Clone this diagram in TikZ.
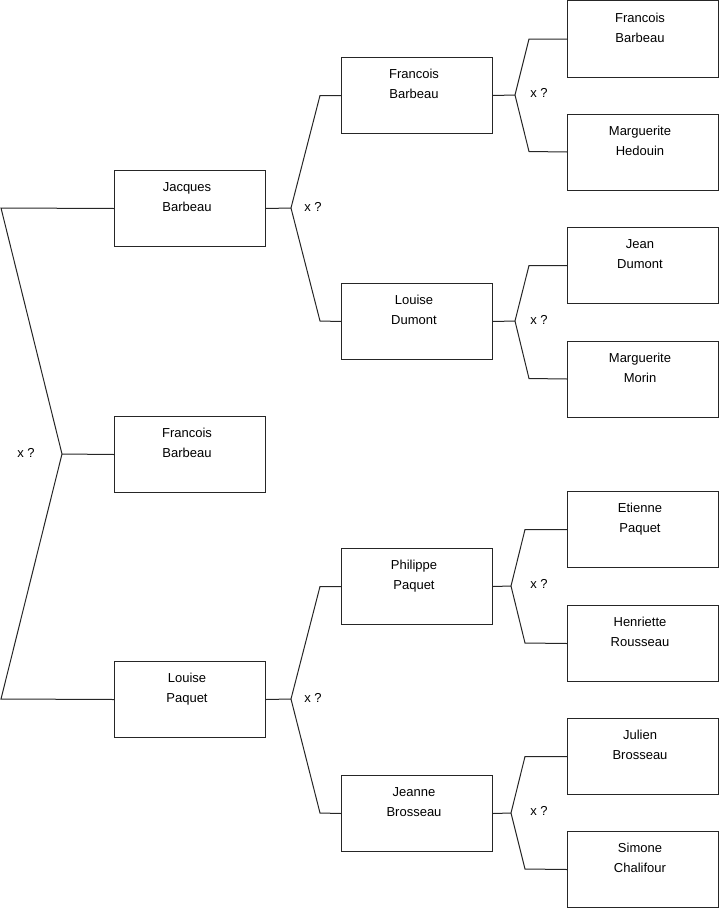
\documentclass[tikz,border=0pt]{standalone}
\usepackage{fontspec}
\setmainfont{Liberation Sans}
\begin{document}
\begin{tikzpicture}[x=1bp,y=-1bp,
  box/.style={draw=black!85,line width=1bp,rectangle,minimum width=151bp,minimum height=76bp,inner sep=0pt,anchor=north west},
  ptext/.style={anchor=north,inner sep=0pt,align=center,font=\fontsize{13bp}{20bp}\selectfont,text=black},
  xq/.style={inner sep=0pt,font=\fontsize{13bp}{20bp}\selectfont,text=black},
  conn/.style={draw=black!85,line width=1bp}]
\useasboundingbox (0,0) rectangle (719,908);
% boxes
\newcommand{\pbox}[4]{%
  \node[box] (#1) at (#2,#3) {};
  \node[ptext] (#1t) at ([xshift=-3bp,yshift=-12bp]#1.north) {#4};}
\pbox{a1}{114}{170}{Jacques\\Barbeau}
\pbox{a2}{114}{416}{Francois\\Barbeau}
\pbox{a3}{114}{661}{Louise\\Paquet}
\pbox{b1}{341}{57}{Francois\\Barbeau}
\pbox{b2}{341}{283}{Louise\\Dumont}
\pbox{b3}{341}{548}{Philippe\\Paquet}
\pbox{b4}{341}{775}{Jeanne\\Brosseau}
\pbox{c1}{567}{0.5}{Francois\\Barbeau}
\pbox{c2}{567}{113.5}{Marguerite\\Hedouin}
\pbox{c3}{567}{227}{Jean\\Dumont}
\pbox{c4}{567}{340.5}{Marguerite\\Morin}
\pbox{c5}{567}{491}{Etienne\\Paquet}
\pbox{c6}{567}{605}{Henriette\\Rousseau}
\pbox{c7}{567}{718}{Julien\\Brosseau}
\pbox{c8}{567}{831}{Simone\\Chalifour}
% junction coordinates
\coordinate (L1) at (1,208);
\coordinate (L2) at (62,454);
\coordinate (L3) at (1,699);
\coordinate (ja) at (291,208);
\coordinate (jb) at (291,699);
\coordinate (jc) at (515,95);
\coordinate (jd) at (515,321);
\coordinate (je) at (511,586);
\coordinate (jf) at (511,813);
% level 1
\draw[conn] (a1.west) -- (L1) -- (L2) -- (L3) -- (a3.west);
\draw[conn] (L2) -- (a2.west);
% level 2
\draw[conn] (a1.east) -- (ja);
\draw[conn] (b1.west) -- ++(-21,0) -- (ja) -- (320,321) -- (b2.west);
\draw[conn] (a3.east) -- (jb);
\draw[conn] (b3.west) -- ++(-21,0) -- (jb) -- (320,813) -- (b4.west);
% level 3
\draw[conn] (b1.east) -- (jc);
\draw[conn] (c1.west) -- ++(-38,0) -- (jc) -- (529,151.5) -- (c2.west);
\draw[conn] (b2.east) -- (jd);
\draw[conn] (c3.west) -- ++(-38,0) -- (jd) -- (529,378.5) -- (c4.west);
\draw[conn] (b3.east) -- (je);
\draw[conn] (c5.west) -- ++(-42,0) -- (je) -- (525,643) -- (c6.west);
\draw[conn] (b4.east) -- (jf);
\draw[conn] (c7.west) -- ++(-42,0) -- (jf) -- (525,869) -- (c8.west);
% labels
\node[xq] (x1) at (26,452.7) {x ?};
\node[xq] (x2) at (313,206.7) {x ?};
\node[xq] (x3) at (313,697.5) {x ?};
\node[xq] (x4) at (539,93.3) {x ?};
\node[xq] (x5) at (539,320) {x ?};
\node[xq] (x6) at (539,584) {x ?};
\node[xq] (x7) at (539,811) {x ?};
\end{tikzpicture}
\end{document}
